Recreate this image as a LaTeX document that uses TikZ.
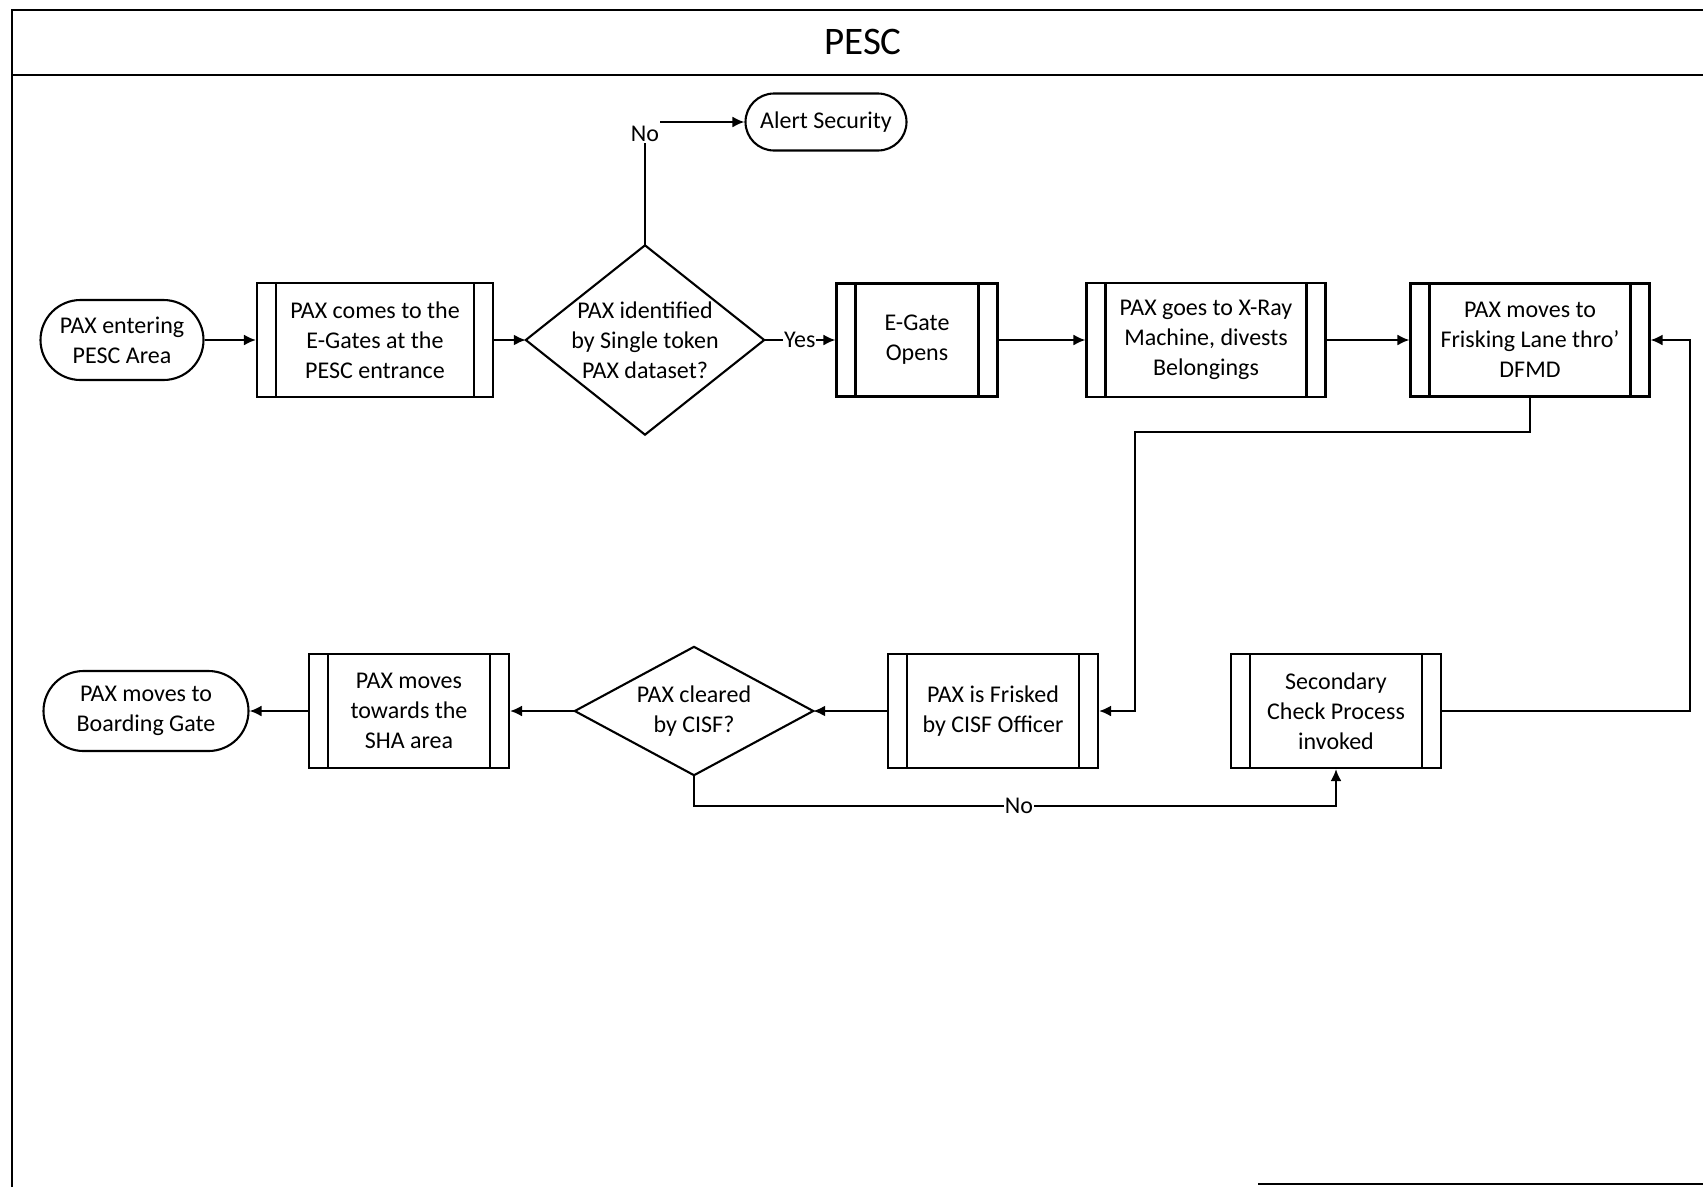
\documentclass[tikz,border=0pt]{standalone}
\usepackage{fontspec}
\setmainfont{Carlito}
\usetikzlibrary{arrows.meta,shapes.misc}
\newcommand\bodyfont{\fontsize{24}{30}\selectfont}
\tikzset{
 lw/.style={line width=2.1pt},
 pproc/.style={draw, lw, rectangle, inner sep=0pt, align=center, font=\bodyfont,
   path picture={
     \draw[lw] ([xshift=19pt]path picture bounding box.north west) -- ([xshift=19pt]path picture bounding box.south west);
     \draw[lw] ([xshift=-19pt]path picture bounding box.north east) -- ([xshift=-19pt]path picture bounding box.south east);}},
 term/.style={draw, lw, rounded rectangle, inner sep=0pt, align=center, font=\bodyfont},
 dia/.style={rectangle, inner sep=0pt, align=center, font=\bodyfont},
 arr/.style={lw, -{Latex[length=12pt,width=11pt]}},
 lbl/.style={font=\bodyfont, inner sep=1pt, fill=white},
 frame/.style={line width=2.2pt},
}
\begin{document}
\begin{tikzpicture}[x=1pt,y=-1pt]
\useasboundingbox (0,0) rectangle (1703,1187);
% frame
\draw[frame] (12,1187) -- (12,10) -- (1703,10);
\draw[frame] (12,75) -- (1703,75);
\draw[frame] (1258,1184) -- (1703,1184);
\node[font=\fontsize{39}{46}\selectfont] (title) at (863,42) {PESC};
% row 1
\node[term, minimum width=163pt, minimum height=80pt] (start) at (122,340) {PAX entering\\PESC Area};
\node[pproc, minimum width=236pt, minimum height=114pt] (gates) at (375,340) {PAX comes to the\\E-Gates at the\\PESC entrance};
\node[dia, minimum width=238pt, minimum height=189pt] (d1) at (645,340) {PAX identified\\by Single token\\PAX dataset?};
\draw[lw] (d1.north) -- (d1.east) -- (d1.south) -- (d1.west) -- cycle;
\node[pproc, minimum width=161pt, minimum height=113pt] (egate) at (917,340) {E-Gate\\Opens};
\node[pproc, minimum width=239pt, minimum height=114pt] (xray) at (1206,340) {PAX goes to X-Ray\\Machine, divests\\Belongings};
\node[pproc, minimum width=239pt, minimum height=113pt] (dfmd) at (1530,340) {PAX moves to\\Frisking Lane thro’\\DFMD};
\node[term, minimum width=161pt, minimum height=57pt] (alert) at (826,122) {Alert Security};
\node[lbl, fill=none] (no1) at (645,134) {No};
% row 2
\node[term, minimum width=205pt, minimum height=80pt] (board) at (146,711) {PAX moves to\\Boarding Gate};
\node[pproc, minimum width=200pt, minimum height=114pt] (sha) at (409,711) {PAX moves\\towards the\\SHA area};
\node[dia, minimum width=238pt, minimum height=128pt] (d2) at (694,711) {PAX cleared\\by CISF?};
\draw[lw] (d2.north) -- (d2.east) -- (d2.south) -- (d2.west) -- cycle;
\node[pproc, minimum width=210pt, minimum height=114pt] (frisk) at (993,711) {PAX is Frisked\\by CISF Officer};
\node[pproc, minimum width=210pt, minimum height=114pt] (sec) at (1336,711) {Secondary\\Check Process\\invoked};
% connectors
\draw[arr] (start.east) -- (gates.west);
\draw[arr] (gates.east) -- (d1.west);
\draw[arr] (d1.east) -- node[lbl]{Yes} (egate.west);
\draw[arr] (egate.east) -- (xray.west);
\draw[arr] (xray.east) -- (dfmd.west);
\draw[lw] (d1.north) -- (no1.south);
\draw[arr] (no1.east |- alert.west) -- (alert.west);
\coordinate (c1) at (1135,432);
\draw[arr] (dfmd.south) |- (c1) |- (frisk.east);
\draw[arr] (frisk.west) -- (d2.east);
\draw[arr] (d2.west) -- (sha.east);
\draw[arr] (sha.west) -- (board.east);
\coordinate (c2) at (1336,806);
\draw[arr] (d2.south) |- node[lbl, pos=0.753]{No} (c2) -- (sec.south);
\coordinate (c3) at (1690,711);
\draw[arr] (sec.east) -- (c3) |- (dfmd.east);
\end{tikzpicture}
\end{document}
